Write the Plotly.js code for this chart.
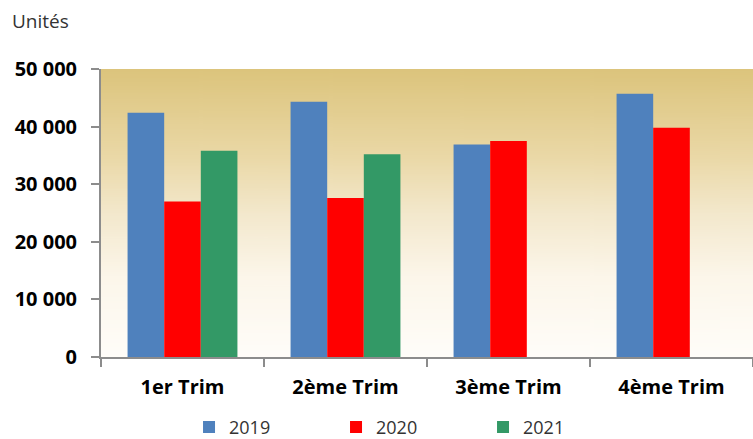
<!DOCTYPE html>
<html>
<head>
<meta charset="utf-8">
<script src="https://cdn.plot.ly/plotly-3.0.1.min.js"></script>
<style>
html,body{margin:0;padding:0;background:#fff;}
#chart{width:753px;height:439px;}
</style>
</head>
<body>
<div id="chart"></div>
<script>
const categories = ["1er Trim", "2ème Trim", "3ème Trim", "4ème Trim"];
const seriesNames = ["2019", "2020", "2021"];
const values2019 = [42400, 44300, 36900, 45700];
const values2020 = [27000, 27600, 37500, 39800];
const values2021 = [35800, 35200, null, null];
const colors = ["#4f81bd", "#ff0000", "#339966"];
const yTickVals = [0, 10000, 20000, 30000, 40000, 50000];

// gradient background image
const cv = document.createElement('canvas');
cv.width = 10; cv.height = 300;
const ctx = cv.getContext('2d');
const g = ctx.createLinearGradient(0, 0, 0, 300);
g.addColorStop(0, '#dcc47c');
g.addColorStop(0.3, '#ead8a6');
g.addColorStop(0.5, '#f3e8cc');
g.addColorStop(0.72, '#fcf6ea');
g.addColorStop(1, '#fffdf9');
ctx.fillStyle = g;
ctx.fillRect(0, 0, 10, 300);
const bgUrl = cv.toDataURL();

const allValues = [values2019, values2020, values2021];
const traces = seriesNames.map((n, i) => ({
  type: 'bar',
  name: n,
  x: categories,
  y: allValues[i],
  marker: {color: colors[i], line: {width: 0}},
  hoverinfo: 'x+y+name'
}));

const fontFam = '"Open Sans", "Liberation Sans", sans-serif';

const layout = {
  width: 753, height: 439,
  margin: {l: 101, r: 0, t: 69, b: 82, autoexpand: false},
  paper_bgcolor: '#ffffff',
  plot_bgcolor: 'rgba(0,0,0,0)',
  separators: ', ',
  barmode: 'group',
  bargap: 0.326,
  bargroupgap: 0,
  font: {family: fontFam, color: '#000'},
  images: [{
    source: bgUrl, xref: 'paper', yref: 'paper',
    x: 0, y: 1, sizex: 1, sizey: 1, sizing: 'stretch',
    xanchor: 'left', yanchor: 'top', layer: 'below'
  }],
  xaxis: {
    type: 'category',
    automargin: false,
    showgrid: false,
    showline: true, linecolor: '#8c8c8c', linewidth: 2,
    ticks: 'outside', ticklen: 8, tickcolor: '#8c8c8c', tickwidth: 2,
    tickson: 'boundaries',
    tickfont: {family: fontFam, size: 20, color: '#000', weight: 'bold'},
    ticklabelstandoff: 11
  },
  yaxis: {
    automargin: false,
    range: [0, 50000],
    tickvals: yTickVals,
    tickformat: ',d',
    showgrid: false, zeroline: false,
    showline: true, linecolor: '#8c8c8c', linewidth: 2,
    ticks: 'outside', ticklen: 8, tickcolor: '#8c8c8c', tickwidth: 2,
    tickfont: {family: fontFam, size: 20, color: '#000', weight: 'bold'},
    ticklabelstandoff: 10
  },
  showlegend: true,
  legend: {
    orientation: 'h',
    x: 0.135, xanchor: 'left',
    y: -0.18, yanchor: 'top',
    entrywidth: 102, entrywidthmode: 'pixels',
    font: {family: fontFam, size: 18, color: '#333'},
    bgcolor: 'rgba(0,0,0,0)',
    borderwidth: 0
  },
  annotations: [{
    text: 'Unités', xref: 'paper', yref: 'paper',
    x: -0.14, y: 1.165, xanchor: 'left', yanchor: 'middle',
    showarrow: false,
    font: {family: fontFam, size: 19, color: '#333'}
  }]
};

Plotly.newPlot('chart', traces, layout, {displayModeBar: false, staticPlot: true});
</script>
</body>
</html>
